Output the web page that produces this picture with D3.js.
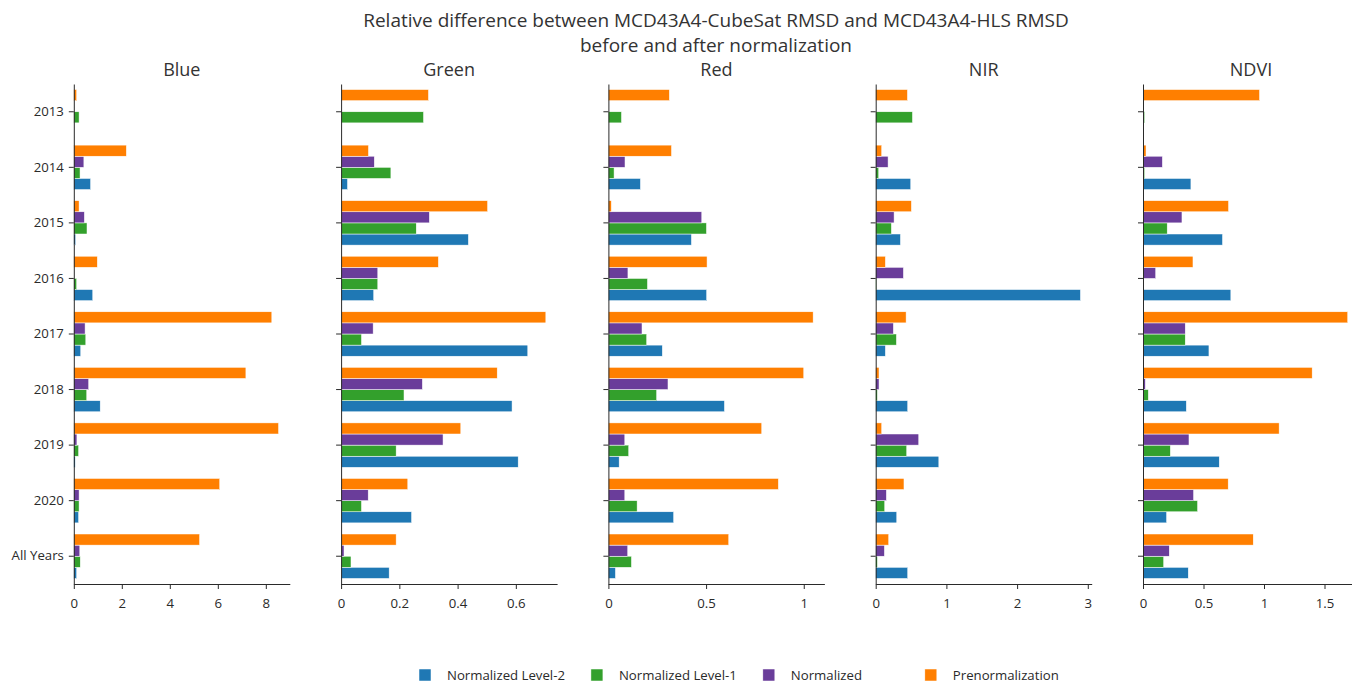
<!DOCTYPE html>
<html>
<head>
<meta charset="utf-8">
<script src="https://cdn.jsdelivr.net/npm/d3@7"></script>
<style>
  body { margin: 0; background: #fff; }
  svg { display: block; font-family: "Open Sans", sans-serif; }
</style>
</head>
<body>
<svg id="chart" width="1352" height="682"></svg>
<script>
// Categories (rows, top to bottom) and series
const categories = ["2013", "2014", "2015", "2016", "2017", "2018", "2019", "2020", "All Years"];
const bandNames = ["Blue", "Green", "Red", "NIR", "NDVI"];
const seriesNames = ["Normalized Level-2", "Normalized Level-1", "Normalized", "Prenormalization"];
const seriesColors = ["#1f78b4", "#33a02c", "#6a3d9a", "#ff7f00"];

// Blue band
const blueLevel2 = [null, 0.70, 0.08, 0.79, 0.29, 1.10, 0.06, 0.20, 0.12];
const blueLevel1 = [0.22, 0.26, 0.55, 0.12, 0.50, 0.54, 0.20, 0.22, 0.27];
const blueNormalized = [null, 0.42, 0.44, null, 0.47, 0.62, 0.13, 0.22, 0.25];
const bluePrenorm = [0.12, 2.19, 0.22, 0.98, 8.25, 7.17, 8.53, 6.08, 5.24];

// Green band
const greenLevel2 = [null, 0.022, 0.437, 0.112, 0.641, 0.587, 0.608, 0.242, 0.165];
const greenLevel1 = [0.283, 0.171, 0.258, 0.126, 0.070, 0.216, 0.189, 0.070, 0.034];
const greenNormalized = [null, 0.114, 0.303, 0.126, 0.110, 0.279, 0.350, 0.093, 0.010];
const greenPrenorm = [0.300, 0.094, 0.503, 0.334, 0.703, 0.536, 0.411, 0.229, 0.189];

// Red band
const redLevel2 = [null, 0.164, 0.425, 0.503, 0.276, 0.594, 0.055, 0.334, 0.036];
const redLevel1 = [0.067, 0.029, 0.502, 0.200, 0.196, 0.247, 0.104, 0.147, 0.118];
const redNormalized = [null, 0.085, 0.478, 0.100, 0.172, 0.305, 0.084, 0.084, 0.099];
const redPrenorm = [0.312, 0.323, 0.015, 0.505, 1.048, 1.000, 0.785, 0.870, 0.616];

// NIR band
const nirLevel2 = [null, 0.496, 0.350, 2.896, 0.137, 0.453, 0.893, 0.298, 0.453];
const nirLevel1 = [0.520, 0.043, 0.222, 0.010, 0.293, 0.024, 0.439, 0.128, 0.024];
const nirNormalized = [null, 0.175, 0.260, 0.392, 0.250, 0.047, 0.609, 0.151, 0.123];
const nirPrenorm = [0.449, 0.085, 0.505, 0.137, 0.430, 0.047, 0.085, 0.400, 0.184];

// NDVI
const ndviLevel2 = [null, 0.396, 0.657, 0.726, 0.545, 0.358, 0.630, 0.195, 0.374];
const ndviLevel1 = [0.014, 0.014, 0.200, 0.005, 0.349, 0.044, 0.226, 0.451, 0.171];
const ndviNormalized = [null, 0.160, 0.322, 0.105, 0.349, 0.019, 0.380, 0.418, 0.217];
const ndviPrenorm = [0.963, 0.025, 0.707, 0.413, 1.692, 1.398, 1.125, 0.704, 0.911];

// Tick labels for each panel's value axis
const blueTicks = [0, 2, 4, 6, 8];
const greenTicks = [0, 0.2, 0.4, 0.6];
const redTicks = [0, 0.5, 1];
const nirTicks = [0, 1, 2, 3];
const ndviTicks = [0, 0.5, 1, 1.5];

const panels = [
  { name: "Blue", series: [blueLevel2, blueLevel1, blueNormalized, bluePrenorm], ticks: blueTicks },
  { name: "Green", series: [greenLevel2, greenLevel1, greenNormalized, greenPrenorm], ticks: greenTicks },
  { name: "Red", series: [redLevel2, redLevel1, redNormalized, redPrenorm], ticks: redTicks },
  { name: "NIR", series: [nirLevel2, nirLevel1, nirNormalized, nirPrenorm], ticks: nirTicks },
  { name: "NDVI", series: [ndviLevel2, ndviLevel1, ndviNormalized, ndviPrenorm], ticks: ndviTicks }
];

const svg = d3.select("#chart");
const ink = "#2a2a2a";
const tickFont = 13.2;

const plotTop = 84, plotBottom = 584;
const firstLeft = 73.8, panelWidth = 216, panelStep = 267.3;

// Title
const title = svg.append("g").attr("fill", "#333").attr("font-size", 19).attr("text-anchor", "middle");
title.append("text").attr("x", 716).attr("y", 26.5).text("Relative difference between MCD43A4-CubeSat RMSD and MCD43A4-HLS RMSD");
title.append("text").attr("x", 716).attr("y", 51.5).text("before and after normalization");

// Shared category scale
const y = d3.scaleBand().domain(categories).range([plotTop, plotBottom]).paddingInner(0).paddingOuter(0);
// Within-group sub scale: Prenormalization on top, Level-2 at the bottom
const ySub = d3.scaleBand().domain([3, 2, 1, 0]).range([y.bandwidth() * 0.1, y.bandwidth() * 0.9]);

panels.forEach((p, i) => {
  const left = firstLeft + i * panelStep;
  const maxVal = d3.max(p.series, s => d3.max(s));
  const x = d3.scaleLinear().domain([0, maxVal * 1.055]).range([left, left + panelWidth]);

  const g = svg.append("g");

  // Bars
  p.series.forEach((vals, si) => {
    g.append("g")
      .selectAll("rect")
      .data(categories.map((c, ci) => ({ c, v: vals[ci] })).filter(d => d.v !== null))
      .join("rect")
      .attr("x", x(0))
      .attr("y", d => y(d.c) + ySub(si))
      .attr("width", d => x(d.v) - x(0))
      .attr("height", ySub.bandwidth())
      .attr("fill", seriesColors[si])
      .attr("stroke", "#fff")
      .attr("stroke-width", 0.5);
  });

  // Value axis
  const xAxis = g.append("g")
    .attr("transform", `translate(0,${plotBottom})`)
    .call(d3.axisBottom(x).tickValues(p.ticks).tickFormat(d3.format("~g")).tickSize(5).tickPadding(10).tickSizeOuter(0));
  xAxis.select(".domain").attr("stroke", ink);
  xAxis.selectAll(".tick line").attr("stroke", ink);
  xAxis.selectAll("text").attr("fill", ink).attr("font-size", tickFont).attr("font-family", "Open Sans, sans-serif");

  // Category axis
  const yAxis = g.append("g")
    .attr("transform", `translate(${x(0)},0)`)
    .call(d3.axisLeft(y).tickSize(5).tickPadding(5).tickSizeOuter(0));
  yAxis.select(".domain").attr("stroke", ink);
  yAxis.selectAll(".tick line").attr("stroke", ink);
  yAxis.selectAll("text").attr("fill", ink).attr("font-size", tickFont).attr("font-family", "Open Sans, sans-serif");
  if (i > 0) yAxis.selectAll("text").remove();

  // Panel title
  svg.append("text")
    .attr("x", left + panelWidth / 2)
    .attr("y", 75.5)
    .attr("text-anchor", "middle")
    .attr("font-size", 18)
    .attr("fill", "#333")
    .text(p.name);
});

// Legend (horizontal, entries at least a minimum width apart)
const legend = svg.append("g").attr("font-size", tickFont).attr("fill", ink);
let cursor = 419;
seriesNames.forEach((name, si) => {
  legend.append("rect")
    .attr("x", cursor).attr("y", 669).attr("width", 12).attr("height", 12)
    .attr("fill", seriesColors[si]).attr("stroke", "#fff").attr("stroke-width", 0.5);
  const t = legend.append("text").attr("x", cursor + 28).attr("y", 679.5).text(name);
  cursor = cursor + Math.max(28 + t.node().getComputedTextLength() + 26, 162);
});
</script>
</body>
</html>
